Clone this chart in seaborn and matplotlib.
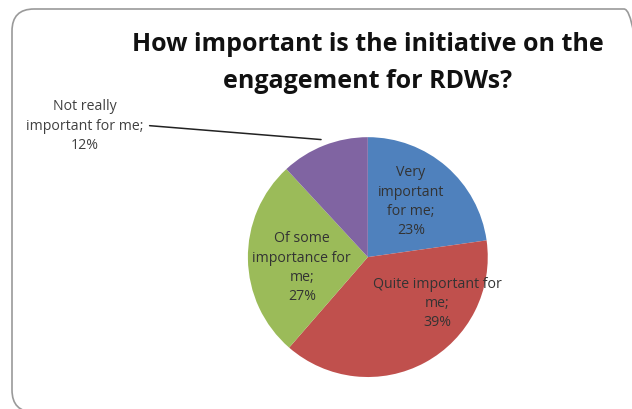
import matplotlib
matplotlib.use("Agg")
import matplotlib.pyplot as plt
from matplotlib.patches import FancyBboxPatch
from matplotlib.transforms import IdentityTransform
import seaborn as sns

# data
categories = [
    "Very important for me",
    "Quite important for me",
    "Of some importance for me",
    "Not really important for me",
]
shares = [23, 39, 27, 12]
slice_labels = [
    "Very\nimportant\nfor me;\n23%",
    "Quite important for\nme;\n39%",
    "Of some\nimportance for\nme;\n27%",
    "Not really\nimportant for me;\n12%",
]
title = "How important is the initiative on the\nengagement for RDWs?"

sns.set_theme(style="white")
plt.rcParams["font.family"] = ["Open Sans", "DejaVu Sans"]

colors = ["#4F81BD", "#C0504D", "#9BBB59", "#8064A2"]

fig = plt.figure(figsize=(6.32, 4.10), dpi=100)
fig.patch.set_facecolor("white")

# rounded frame around the slide-like chart area
frame = FancyBboxPatch((12, -3), 634, 403, boxstyle="round,pad=0,rounding_size=22",
                       transform=IdentityTransform(), facecolor="none",
                       edgecolor="#9a9a9a", linewidth=1.2)
fig.patches.append(frame)

fig.text(0.582, 0.846, title, ha="center", va="center", fontsize=18,
         fontweight="bold", color="#111111", linespacing=1.6)

ax = fig.add_axes([0.392, 0.078, 0.380, 0.585])
wedges, _ = ax.pie(shares, colors=colors, startangle=90, counterclock=False,
                   wedgeprops=dict(edgecolor="none", linewidth=0))
ax.set_xlim(-1, 1)
ax.set_ylim(-1, 1)
ax.set_aspect("equal")
ax.axis("off")

# label positions (pie radius units) mimicking the Excel layout
label_pos = [(0.36, 0.47), (0.58, -0.38), (-0.55, -0.08)]
for (x, y), txt in zip(label_pos, slice_labels[:3]):
    ax.text(x, y, txt, ha="center", va="center", fontsize=10.2,
            color="#333333", linespacing=1.38)

# outside label with leader line for the small slice
ax.annotate(slice_labels[3], xy=(-0.39, 0.98), xytext=(-2.36, 1.10),
            ha="center", va="center", fontsize=10.2, color="#404040",
            linespacing=1.38, annotation_clip=False,
            arrowprops=dict(arrowstyle="-", color="#222222", lw=1.1,
                            shrinkA=2, shrinkB=0,
                            relpos=(1.0, 0.5)))

fig.savefig("out.png", dpi=100, facecolor="white")
